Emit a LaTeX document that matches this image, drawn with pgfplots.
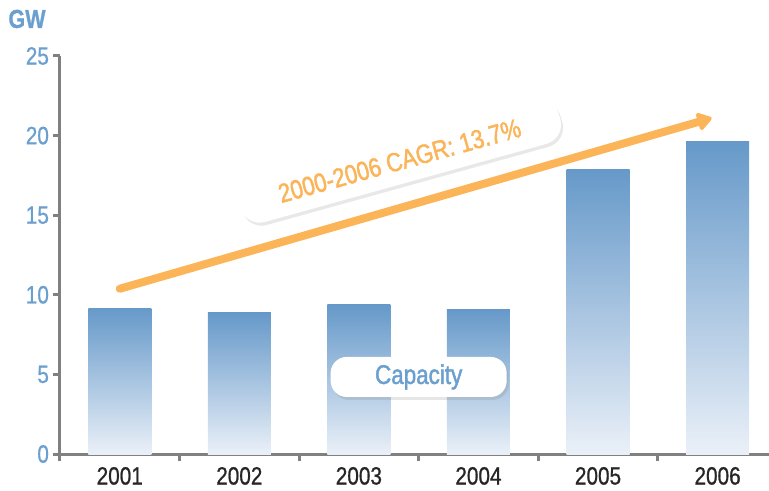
\documentclass[border=0pt]{standalone}
\usepackage{pgfplots}
\pgfplotsset{compat=1.18}
\usepackage{fontspec}
\setmainfont{Liberation Sans}[FakeStretch=0.83, FakeBold=0.8]
\newfontfamily\boxfont{Liberation Sans}[FakeStretch=0.83, FakeBold=1.6]
\usetikzlibrary{arrows.meta,shadows}
\definecolor{axgray}{HTML}{808080}
\definecolor{lblue}{HTML}{6A9FCF}
\definecolor{bartop}{HTML}{6699C9}
\definecolor{barbot}{HTML}{EAF0F8}
\definecolor{orng}{HTML}{FBB457}
\pgfplotsset{mybar/.style={ybar, bar shift=0pt, bar width=31.5pt, draw=none, top color=bartop, bottom color=barbot, forget plot}}
\begin{document}
\begin{tikzpicture}
\begin{axis}[
  scale only axis, width=354.5pt, height=199pt,
  xmin=-0.5, xmax=5.43, ymin=0, ymax=25,
  axis lines*=left,
  axis line style={axgray, line width=1.5pt},
  ytick={0,5,10,15,20,25},
  tick align=outside,
  major tick length=3.5pt,
  tick style={axgray, line width=1.5pt},
  xtick={-0.5,0.5,1.5,2.5,3.5,4.5}, xticklabels={},
  extra x ticks={0,1,2,3,4,5},
  extra x tick labels={2001,2002,2003,2004,2005,2006},
  extra x tick style={major tick length=0pt, tick label style={text=black!85, yshift=-3pt}},
  yticklabel style={text=lblue, xshift=1.5pt},
  tick label style={font=\fontsize{12.5}{14}\selectfont},
  /pgf/number format/assume math mode=true,
  clip=false,
]
\addplot[mybar] coordinates {(0,9.17)};
\addplot[mybar] coordinates {(1,8.86)};
\addplot[mybar] coordinates {(2,9.36)};
\addplot[mybar] coordinates {(3,9.05)};
\addplot[mybar] coordinates {(4,17.9)};
\addplot[mybar] coordinates {(5,19.66)};
\draw[orng, line width=4pt, line cap=round, -{Triangle[length=8pt,width=10pt,round]}]
  (axis cs:0,10.38) -- (axis cs:4.95,21.1);
\node[rotate=15.5, fill=white, rounded corners=10pt, minimum width=166pt, minimum height=23pt,
  drop shadow={opacity=0.18, shadow xshift=1pt, shadow yshift=-1.5pt},
  text=orng, font=\boxfont\fontsize{13.3}{15}\selectfont]
  at (axis cs:2.34,18.42) {2000-2006 CAGR: 13.7\%};
\node[fill=white, rounded corners=8pt, minimum width=88pt, minimum height=20pt,
  drop shadow={opacity=0.2, shadow xshift=1pt, shadow yshift=-1.5pt},
  text=lblue, font=\boxfont\fontsize{13.5}{15}\selectfont]
  at (axis cs:2.5,4.84) {Capacity};
\node[text=lblue, font=\fontsize{13}{15}\selectfont\bfseries] at (rel axis cs:-0.0465,1.093) {GW};
\coordinate (bbsw) at (rel axis cs:-0.0846,-0.0905);
\coordinate (bbne) at (rel axis cs:1,1.1407);
\end{axis}
\pgfresetboundingbox
\path[use as bounding box] (bbsw) rectangle (bbne);
\end{tikzpicture}
\end{document}
